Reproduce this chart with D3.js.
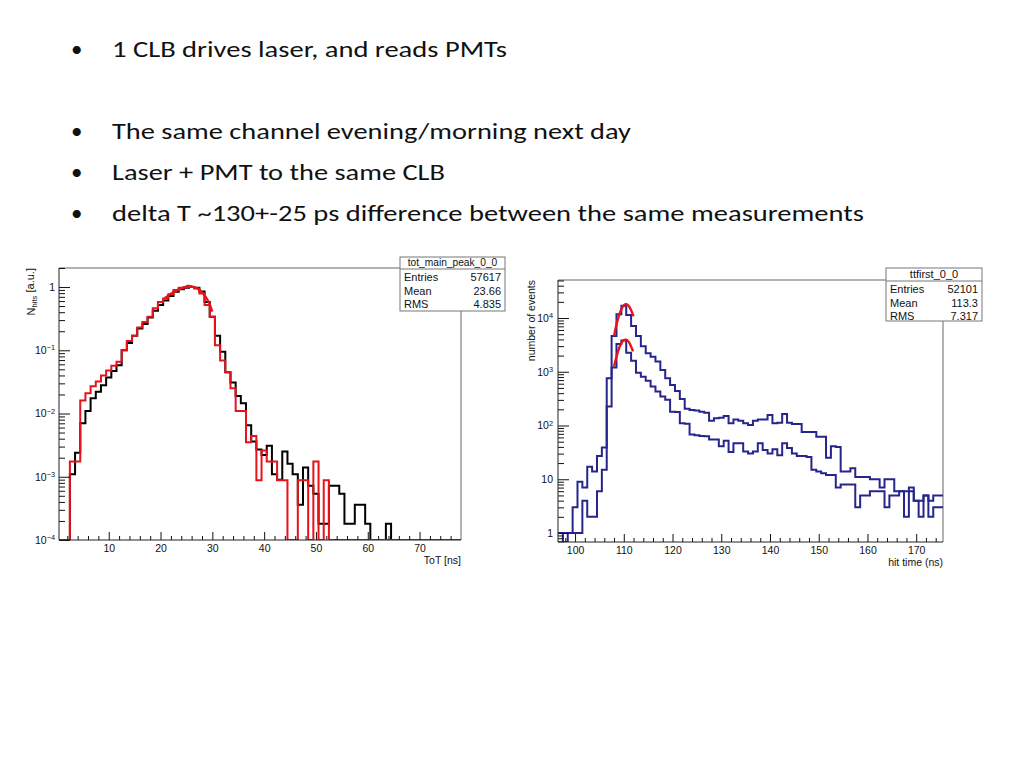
<!DOCTYPE html>
<html><head><meta charset="utf-8">
<script src="https://cdn.jsdelivr.net/npm/d3@7"></script>
<style>body{margin:0;background:#fff}svg{display:block}</style>
</head><body>
<svg id="c" width="1024" height="768"></svg>
<script>
// ---------------- data ----------------
const bulletText = [
  "1 CLB drives laser, and reads PMTs",
  "The same channel evening/morning next day",
  "Laser + PMT to the same CLB",
  "delta T ~130+-25 ps difference between the same measurements"
];

// left histogram: ToT bins of 1 ns, centred on integers, first bin = 1 ns
const totFirstBin = 1;
const totBlack = [
  0, 0, 0.0011, 0.0024, 0.007, 0.011, 0.0175, 0.022, 0.028, 0.037,
  0.047, 0.058, 0.10, 0.13, 0.17, 0.22, 0.26, 0.33, 0.42, 0.52,
  0.61, 0.72, 0.84, 0.92, 0.97, 1.0, 0.97, 0.85, 0.58, 0.34,
  0.17, 0.095, 0.045, 0.031, 0.019, 0.0145, 0.0065, 0.0036, 0.0027, 0.0022,
  0.0031, 0.0011, 0.0009, 0.0025, 0.0016, 0.0011, 0.00036, 0.0014, 0.00072, 0.00054,
  0.00018, 0.00018, 0.00072, 0.00072, 0.00054, 0.00018, 0.00018, 0.00036, 0.00036, 0.00018,
  0, 0, 0, 0.00018, 0, 0, 0, 0, 0, 0,
  0, 0, 0, 0, 0, 0, 0, 0
];
const totRed = [
  0, 0, 0.00175, 0.00175, 0.016, 0.021, 0.027, 0.032, 0.04, 0.048,
  0.057, 0.066, 0.10, 0.14, 0.17, 0.23, 0.28, 0.34, 0.46, 0.58,
  0.66, 0.77, 0.9, 0.97, 1.0, 1.0, 0.95, 0.79, 0.52, 0.34,
  0.12, 0.069, 0.045, 0.025, 0.011, 0.011, 0.0035, 0.0044, 0.00088, 0.0026,
  0.00175, 0.00175, 0.00088, 0.00088, 0, 0, 0.00088, 0.00088, 0, 0.00175,
  0, 0.00088, 0, 0, 0, 0, 0, 0, 0, 0,
  0, 0, 0, 0, 0, 0, 0, 0, 0, 0,
  0, 0, 0, 0, 0, 0, 0, 0
];
const totFitX = [20.8, 21.5, 22.5, 23.5, 24.5, 25.3, 26.2, 27.2, 28.2, 29.2, 30.0];
const totFitY = [0.67, 0.74, 0.83, 0.91, 0.98, 1.04, 1.02, 0.94, 0.8, 0.6, 0.41];
const totXTicks = [10, 20, 30, 40, 50, 60, 70];
const totYTicks = [1e-4, 1e-3, 1e-2, 1e-1, 1];
const totStats = [["Entries", "57617"], ["Mean", "23.66"], ["RMS", "4.835"]];

// right histogram: hit time bins of 1 ns, first bin centred at 97 ns
const hitFirstBin = 97;
const hitA = [
  1, 1, 1, 3, 9, 7, 17, 14, 27, 39,
  760, 4650, 11800, 17000, 11400, 7100, 4650, 3000, 2200, 1900,
  1550, 1080, 760, 570, 440, 310, 205, 195, 190, 180,
  173, 123, 136, 140, 150, 110, 130, 123, 110, 102,
  123, 130, 130, 157, 110, 113, 163, 113, 107, 107,
  76, 76, 76, 62, 62, 25, 41, 40, 14, 14,
  16, 11, 11, 11, 10, 10, 7, 10, 10, 6,
  6, 6, 7, 4, 4, 5, 4, 5, 5
];
const hitB = [
  1, 0, 1, 1, 1, 4, 2, 2, 6, 15,
  225, 1200, 3300, 3800, 2260, 1600, 960, 810, 680, 530,
  430, 345, 300, 181, 178, 110, 108, 68, 66, 64,
  63, 55, 55, 41, 52, 32, 47, 47, 33, 30,
  33, 47, 35, 30, 36, 28, 47, 38, 30, 27,
  27, 26, 15, 14, 13, 12, 12, 7, 8, 8,
  8, 3, 5, 5, 6, 6, 6, 3, 5, 5,
  6, 2, 6, 4, 2, 5, 2, 3, 3
];
const hitFitAX = [108.0, 108.5, 109.0, 109.5, 110.0, 110.5, 111.0, 111.5, 112.0];
const hitFitAY = [4650, 7600, 11000, 14500, 17200, 18000, 16800, 14000, 10800];
const hitFitBX = [108.0, 108.5, 109.0, 109.5, 110.0, 110.5, 111.0, 111.5, 111.9];
const hitFitBY = [1250, 1900, 2700, 3400, 3850, 3950, 3600, 2950, 2400];
const hitXTicks = [100, 110, 120, 130, 140, 150, 160, 170];
const hitYTicks = [1, 10, 100, 1000, 10000];
const hitStats = [["Entries", "52101"], ["Mean", "113.3"], ["RMS", "7.317"]];

// ---------------- drawing ----------------
const svg = d3.select("#c");
const FONT = "'Liberation Sans', Arial, Helvetica, sans-serif";
const TFONT = "Carlito, Calibri, Lato, 'Open Sans', sans-serif";

// bullet list
const bulletY = [57, 139, 180, 221];
const bulletW = [395, 519, 333, 752];
bulletText.forEach((t, i) => {
  svg.append("text").attr("x", 71).attr("y", bulletY[i]).attr("font-family", TFONT)
    .attr("font-size", 23).attr("fill", "#111").text("•");
  svg.append("text").attr("x", 112).attr("y", bulletY[i]).attr("font-family", TFONT)
    .attr("font-size", 23).attr("fill", "#111")
    .attr("textLength", bulletW[i]).attr("lengthAdjust", "spacingAndGlyphs").text(t);
});

function histPath(x, y, first, vals) {
  const floor = y.domain()[0];
  const p = d3.path();
  vals.forEach((v, i) => {
    const c = first + i;
    const yy = y(Math.max(v, floor));
    if (i === 0) p.moveTo(x(c - 0.5), yy); else p.lineTo(x(c - 0.5), yy);
    p.lineTo(x(c + 0.5), yy);
  });
  return p.toString();
}

function expLabel(sel, v) {
  const e = Math.round(Math.log10(v));
  sel.text(null);
  if (e === 0) { sel.append("tspan").text("1"); return; }
  if (e === 1) { sel.append("tspan").text("10"); return; }
  sel.append("tspan").text("10");
  sel.append("tspan").attr("dy", "-0.5em").attr("font-size", "70%")
    .text(e < 0 ? "\u2212" + (-e) : String(e));
}

function logMinors(lo, hi) {
  const out = [];
  for (let d = Math.floor(Math.log10(lo)); d <= Math.ceil(Math.log10(hi)); d++)
    for (let m = 2; m <= 9; m++) {
      const v = m * Math.pow(10, d);
      if (v >= lo && v <= hi) out.push(v);
    }
  return out;
}

function drawPanel(o) {
  const g = svg.append("g");
  const x = d3.scaleLinear().domain(o.xDomain).range([o.x0, o.x1]);
  const y = d3.scaleLog().domain(o.yDomain).range([o.y1, o.y0]);
  const clipId = "clip" + o.id;
  svg.append("clipPath").attr("id", clipId).append("rect")
    .attr("x", o.x0).attr("y", o.y0).attr("width", o.x1 - o.x0).attr("height", o.y1 - o.y0);

  // frame
  g.append("line").attr("x1", o.x0).attr("x2", o.boxX).attr("y1", o.y0).attr("y2", o.y0)
    .attr("stroke", "#666").attr("stroke-width", 1);
  g.append("line").attr("x1", o.x1).attr("x2", o.x1).attr("y1", o.boxBottom).attr("y2", o.y1)
    .attr("stroke", "#666").attr("stroke-width", 1);

  const plot = g.append("g").attr("clip-path", `url(#${clipId})`);
  o.hists.forEach(h => {
    plot.append("path").attr("d", histPath(x, y, o.first, h.vals))
      .attr("fill", "none").attr("stroke", h.color).attr("stroke-width", 2)
      .attr("stroke-linejoin", "miter");
  });
  const line = d3.line().x(d => x(d[0])).y(d => y(d[1])).curve(d3.curveCatmullRom);
  o.fits.forEach(f => {
    plot.append("path").attr("d", line(f.xs.map((v, i) => [v, f.ys[i]])))
      .attr("fill", "none").attr("stroke", "#e8121b").attr("stroke-width", f.w);
  });

  // axes
  const styleAxis = a => {
    a.select(".domain").remove();
    a.selectAll("line").attr("stroke", "#111");
    a.selectAll("text").attr("font-family", FONT).attr("font-size", 10.5).attr("fill", "#111");
  };
  const xa = g.append("g").attr("transform", `translate(0,${o.y1})`)
    .call(d3.axisBottom(x).tickValues(o.xTicks).tickSize(-8).tickSizeOuter(0).tickPadding(5)
      .tickFormat(d3.format("d")));
  styleAxis(xa);
  const xm = g.append("g").attr("transform", `translate(0,${o.y1})`)
    .call(d3.axisBottom(x).tickValues(o.xMinor).tickSize(-4).tickSizeOuter(0).tickFormat(() => ""));
  styleAxis(xm);
  const ya = g.append("g").attr("transform", `translate(${o.x0},0)`)
    .call(d3.axisLeft(y).tickValues(o.yTicks).tickSize(-11).tickSizeOuter(0).tickPadding(o.yPad));
  styleAxis(ya);
  ya.selectAll(".tick text").each(function (d) { expLabel(d3.select(this), d); });
  const ym = g.append("g").attr("transform", `translate(${o.x0},0)`)
    .call(d3.axisLeft(y).tickValues(logMinors(o.yDomain[0], o.yDomain[1])).tickSize(-6)
      .tickSizeOuter(0).tickFormat(() => ""));
  styleAxis(ym);
  g.append("line").attr("x1", o.x0).attr("x2", o.x1).attr("y1", o.y1).attr("y2", o.y1)
    .attr("stroke", "#222").attr("stroke-width", 1);
  g.append("line").attr("x1", o.x0).attr("x2", o.x0).attr("y1", o.y0).attr("y2", o.y1)
    .attr("stroke", "#222").attr("stroke-width", 1);

  // axis titles
  g.append("text").attr("x", o.x1).attr("y", o.y1 + 24).attr("text-anchor", "end")
    .attr("font-family", FONT).attr("font-size", 10.5).attr("fill", "#111").text(o.xTitle);
  const yt = g.append("text").attr("transform", `translate(${o.yTitleX},${o.y0}) rotate(-90)`)
    .attr("text-anchor", "end").attr("font-family", FONT).attr("font-size", o.yTitleSize).attr("fill", "#111");
  o.yTitle.forEach(part => {
    const t = yt.append("tspan").text(part.t);
    if (part.sub) t.attr("font-size", "70%").attr("dy", "0.3em");
    if (part.after) t.attr("dy", "-0.3em");
  });

  // stats box
  const b = g.append("g");
  b.append("rect").attr("x", o.boxX).attr("y", o.boxY).attr("width", o.boxW).attr("height", o.boxBottom - o.boxY)
    .attr("fill", "#fff").attr("stroke", "#777").attr("stroke-width", 1);
  b.append("line").attr("x1", o.boxX).attr("x2", o.boxX + o.boxW).attr("y1", o.boxSep).attr("y2", o.boxSep)
    .attr("stroke", "#777").attr("stroke-width", 1);
  b.append("text").attr("x", o.boxX + o.boxW / 2).attr("y", o.boxSep - 3).attr("text-anchor", "middle")
    .attr("font-family", FONT).attr("font-size", o.headSize).attr("fill", "#111").text(o.boxTitle);
  o.stats.forEach((s, i) => {
    const yy = o.boxSep + 12 + i * 13.5;
    b.append("text").attr("x", o.boxX + 4).attr("y", yy).attr("font-family", FONT)
      .attr("font-size", 11).attr("fill", "#111").text(s[0]);
    b.append("text").attr("x", o.boxX + o.boxW - 4).attr("y", yy).attr("text-anchor", "end")
      .attr("font-family", FONT).attr("font-size", 11).attr("fill", "#111").text(s[1]);
  });
}

const evenMinor = (a, b) => d3.range(a, b + 1, 2).filter(v => v % 10 !== 0);

drawPanel({
  id: "L", x0: 59, x1: 461, y0: 268, y1: 540,
  xDomain: [0.4, 78], yDomain: [1e-4, 2],
  first: totFirstBin,
  hists: [{ vals: totBlack, color: "#000" }, { vals: totRed, color: "#e8121b" }],
  fits: [{ xs: totFitX, ys: totFitY, w: 2.2 }],
  xTicks: totXTicks, xMinor: evenMinor(2, 76), yTicks: totYTicks, yPad: 4,
  xTitle: "ToT [ns]",
  yTitle: [{ t: "N" }, { t: "hits", sub: true }, { t: " [a.u.]", after: true }],
  yTitleX: 35, yTitleSize: 11,
  boxX: 400, boxY: 257, boxW: 105, boxBottom: 311, boxSep: 269, headSize: 10.2,
  boxTitle: "tot_main_peak_0_0", stats: totStats
});

drawPanel({
  id: "R", x0: 558, x1: 943, y0: 280, y1: 542,
  xDomain: [96.5, 175.5], yDomain: [0.68, 5.1e4],
  first: hitFirstBin,
  hists: [{ vals: hitA, color: "#25258c" }, { vals: hitB, color: "#25258c" }],
  fits: [{ xs: hitFitAX, ys: hitFitAY, w: 2.4 }, { xs: hitFitBX, ys: hitFitBY, w: 2.4 }],
  xTicks: hitXTicks, xMinor: evenMinor(98, 174), yTicks: hitYTicks, yPad: 5,
  xTitle: "hit time (ns)",
  yTitle: [{ t: "number of events" }],
  yTitleX: 535, yTitleSize: 10.5,
  boxX: 886, boxY: 268, boxW: 96, boxBottom: 321, boxSep: 281, headSize: 11,
  boxTitle: "ttfirst_0_0", stats: hitStats
});
</script>
</body></html>
